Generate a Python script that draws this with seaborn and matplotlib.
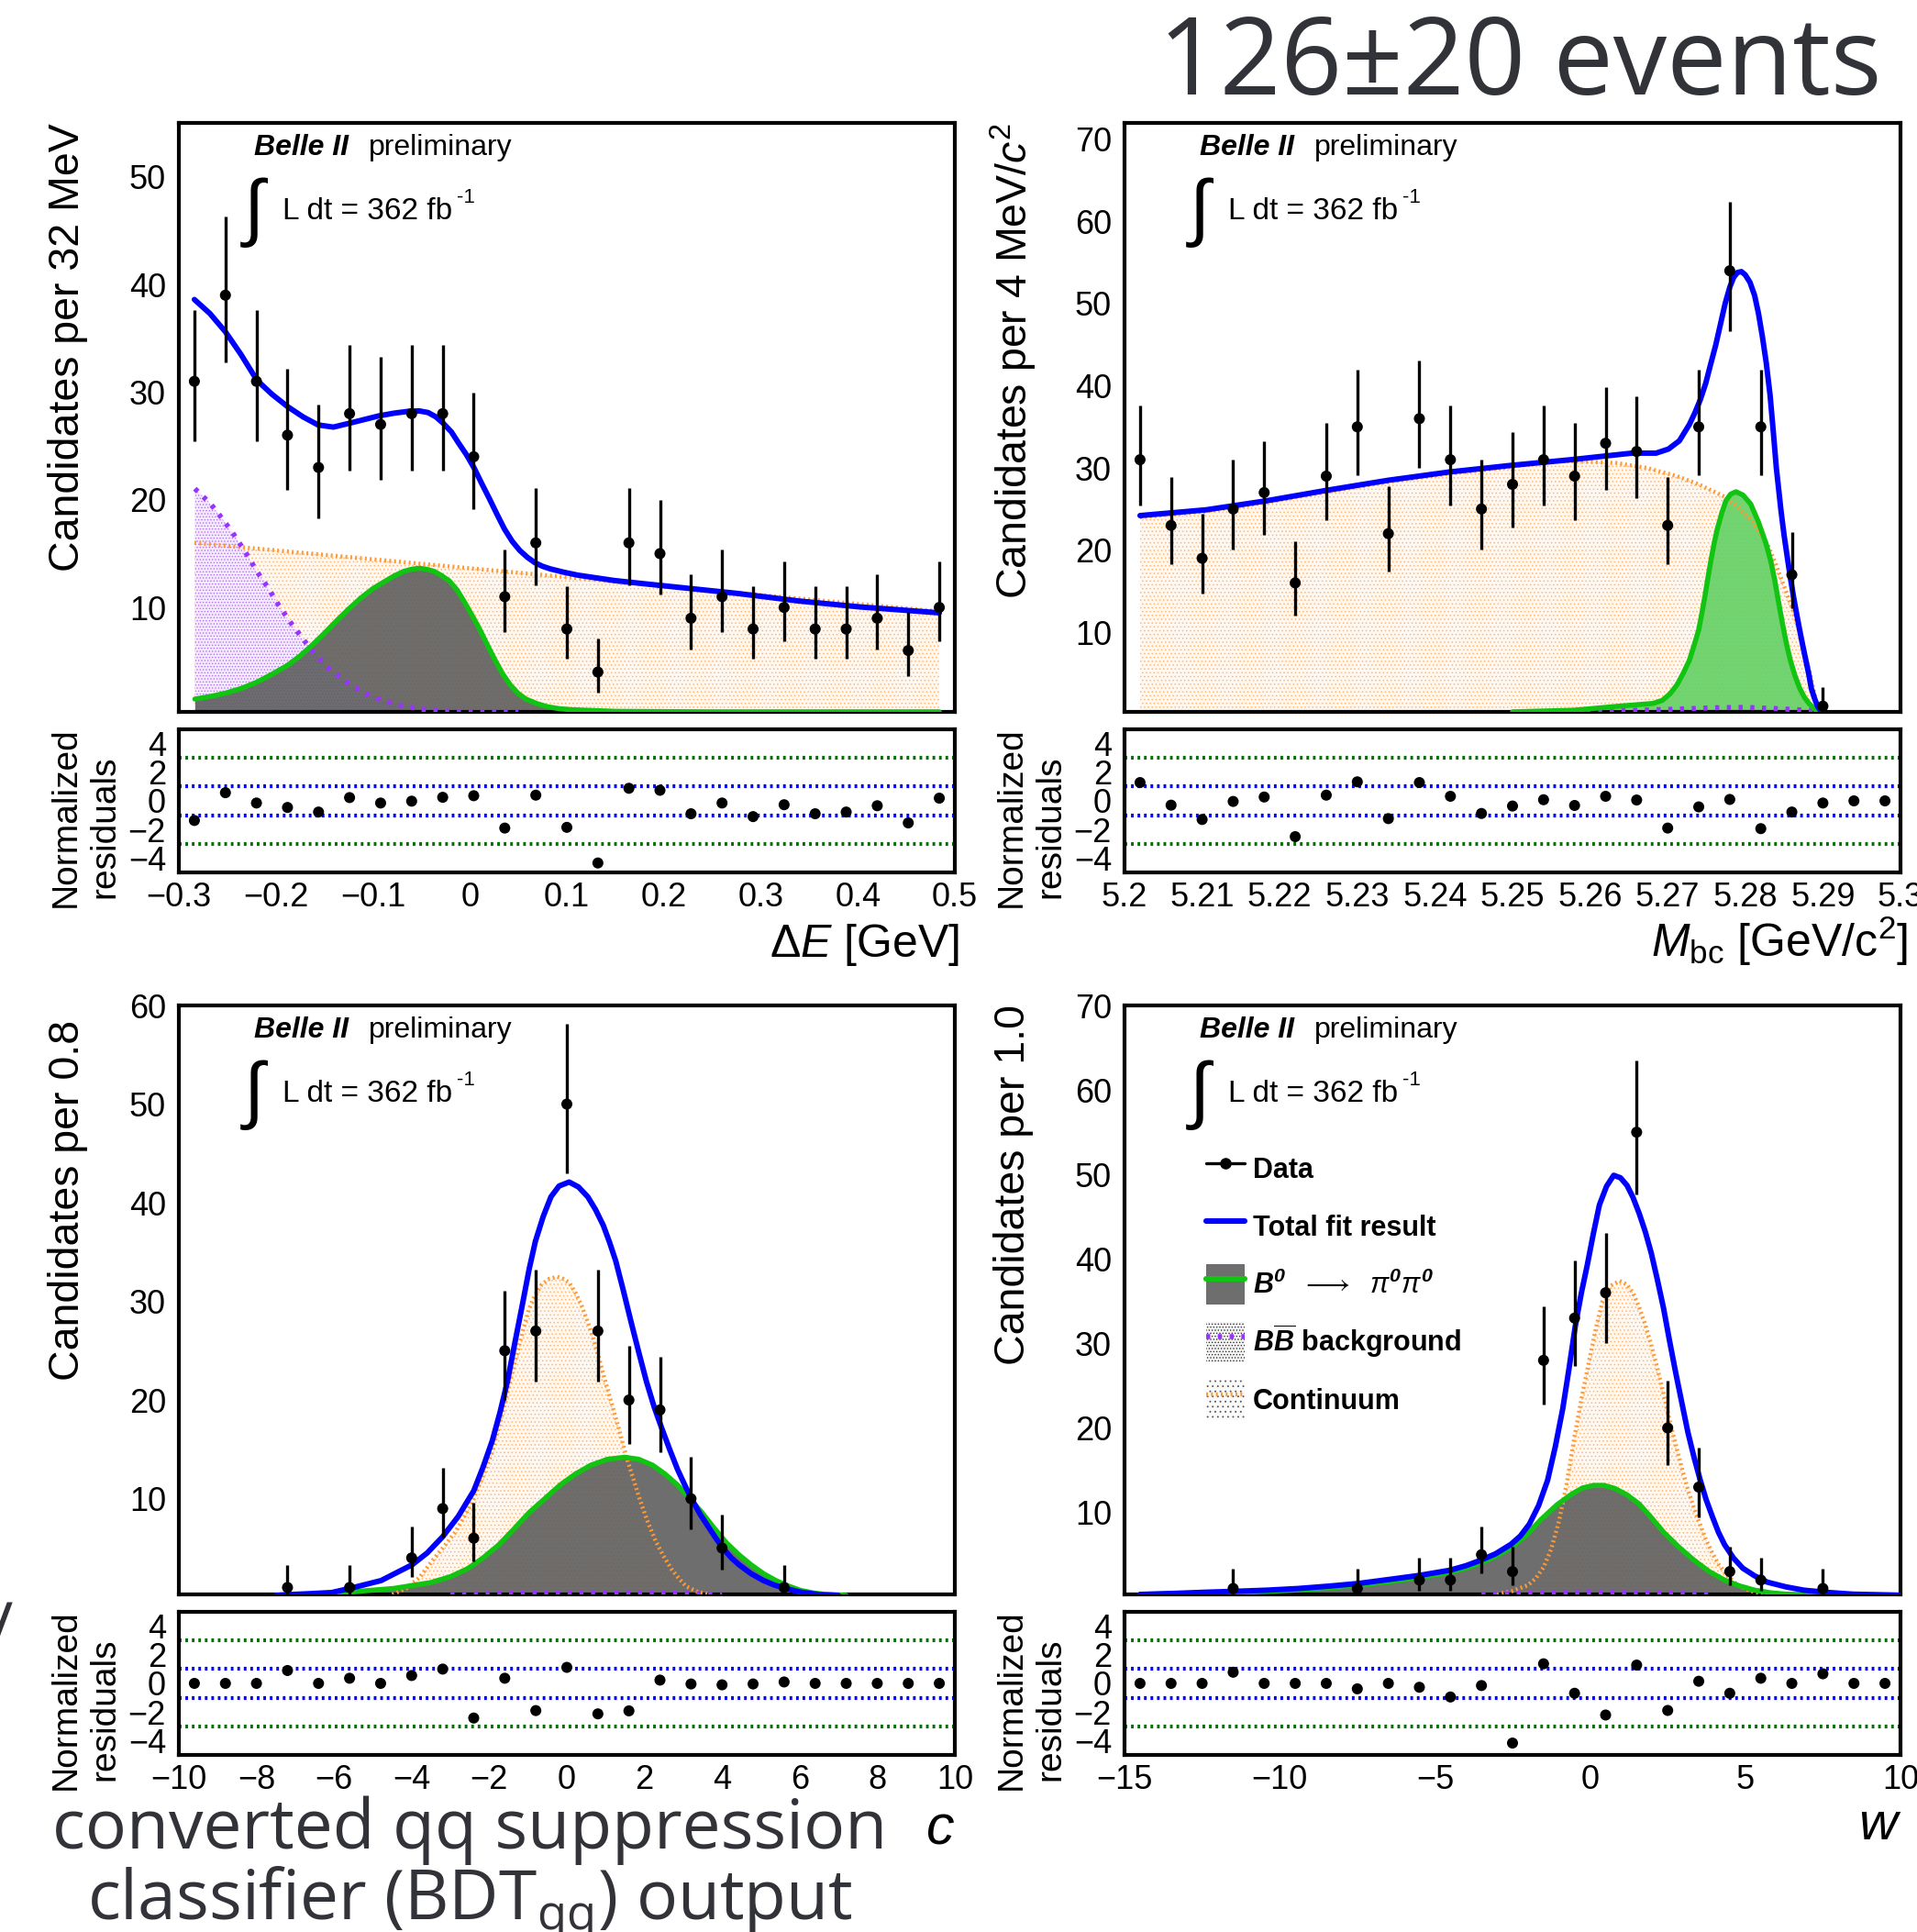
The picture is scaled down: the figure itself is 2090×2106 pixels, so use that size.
import numpy as np
import matplotlib
matplotlib.use("Agg")
import matplotlib.pyplot as plt
from matplotlib.ticker import MultipleLocator, FixedLocator, NullFormatter, FixedFormatter, NullLocator
from matplotlib.patches import Patch, Rectangle
from matplotlib.lines import Line2D
import seaborn as sns

# ---------------- Delta E projection ----------------
de_edges = np.linspace(-0.3, 0.5, 26)
de_counts = np.array([31, 39, 31, 26, 23, 28, 27, 28, 28, 24, 11, 16, 8, 4, 16, 15, 9, 11, 8, 10, 8, 8, 9, 6, 10])
de_pulls = [-1.37, 0.57, -0.15, -0.46, -0.78, 0.23, -0.15, -0.02, 0.25, 0.36, -1.9, 0.4, -1.85,
            -4.34, 0.88, 0.74, -0.9, -0.15, -1.1, -0.27, -0.9, -0.78, -0.34, -1.54, 0.19]
de_total_x = [-0.284, -0.268, -0.252, -0.236, -0.2195, -0.204, -0.188, -0.172, -0.1565, -0.1407,
              -0.125, -0.109, -0.0935, -0.0777, -0.0619, -0.052, -0.043, -0.035, -0.0273, -0.019,
              -0.0115, -0.0036, 0.0043, 0.012, 0.020, 0.028, 0.0357, 0.0436, 0.0515, 0.0594,
              0.0672, 0.075, 0.083, 0.097, 0.1113, 0.13, 0.149, 0.18, 0.212, 0.276, 0.339, 0.402, 0.484]
de_total_y = [38.6, 37.3, 35.6, 33.5, 31.1, 29.8, 28.66, 27.7, 26.95, 26.75, 27.09, 27.45, 27.8,
              28.05, 28.23, 28.25, 28.1, 27.7, 27.09, 26.3, 25.25, 24.2, 22.97, 21.55, 20.13,
              18.65, 17.28, 16.15, 15.29, 14.65, 14.15, 13.82, 13.58, 13.27, 13.0, 12.75, 12.5,
              12.2, 11.9, 11.3, 10.6, 10.05, 9.5]
de_cont_x = [-0.284, -0.1, 0.1, 0.3, 0.484]
de_cont_y = [16.0, 14.47, 12.81, 11.15, 9.63]
de_bb_x = [-0.2835, -0.2674, -0.2542, -0.2422, -0.2305, -0.2195, -0.2078, -0.1968, -0.1848, -0.1722,
           -0.1596, -0.1439, -0.1266, -0.1092, -0.0903, -0.0699, -0.0494, -0.0273, 0.0, 0.05]
de_bb_y = [21.03, 19.64, 18.13, 16.63, 15.0, 13.35, 11.79, 10.17, 8.6, 7.1, 5.62, 4.2, 3.06, 2.06,
           1.36, 0.85, 0.55, 0.36, 0.3, 0.25]
de_sig_x = [-0.2835, -0.267, -0.251, -0.235, -0.2195, -0.204, -0.188, -0.175, -0.1628, -0.150,
            -0.1375, -0.125, -0.1124, -0.100, -0.0871, -0.0776, -0.0682, -0.060, -0.0525, -0.0446,
            -0.0367, -0.029, -0.021, -0.013, -0.0052, 0.0027, 0.0105, 0.0184, 0.0263, 0.034,
            0.042, 0.050, 0.0578, 0.0688, 0.0799, 0.092, 0.105, 0.15, 0.25, 0.484]
de_sig_y = [1.49, 1.74, 2.06, 2.5, 3.06, 3.8, 4.62, 5.5, 6.48, 7.6, 8.75, 9.85, 10.88, 11.75,
            12.45, 12.95, 13.35, 13.55, 13.64, 13.55, 13.35, 12.95, 12.45, 11.6, 10.45, 9.2,
            7.9, 6.45, 5.05, 3.8, 2.77, 2.0, 1.49, 1.08, 0.78, 0.6, 0.5, 0.35, 0.3, 0.3]
de_xticks = [-0.3, -0.2, -0.1, 0.0, 0.1, 0.2, 0.3, 0.4, 0.5]
de_xticklabels = ['\u22120.3', '\u22120.2', '\u22120.1', '0', '0.1', '0.2', '0.3', '0.4', '0.5']

# ---------------- Mbc projection ----------------
mbc_edges = np.linspace(5.2, 5.3, 26)
mbc_counts = np.array([31, 23, 19, 25, 27, 16, 29, 35, 22, 36, 31, 25, 28, 31, 29, 33, 32, 23, 35, 54, 35, 17, 1, 0, 0])
mbc_pulls = [1.28, -0.3, -1.3, -0.04, 0.27, -2.5, 0.4, 1.33, -1.24, 1.28, 0.32, -0.88, -0.36, 0.08,
             -0.32, 0.32, 0.06, -1.9, -0.42, 0.1, -1.94, -0.78, -0.15, 0.0, 0.0]
mbc_total_x = [5.2020, 5.2105, 5.2183, 5.2262, 5.2340, 5.2418, 5.2497, 5.2575, 5.2654, 5.2685,
               5.2701, 5.2715, 5.2728, 5.2735, 5.2742, 5.2749, 5.2755, 5.2762, 5.2768, 5.2774,
               5.2780, 5.2785, 5.2790, 5.2795, 5.2800, 5.2806, 5.2812, 5.2817, 5.2822, 5.2827,
               5.2832, 5.2836, 5.2840, 5.2846, 5.2850, 5.2854, 5.2858, 5.2862, 5.2866, 5.2870,
               5.2874, 5.2878, 5.2882, 5.2885, 5.2889, 5.2893, 5.2898]
mbc_total_y = [24.2, 24.9, 26.0, 27.3, 28.5, 29.5, 30.3, 31.0, 31.8, 31.8, 32.3, 33.3, 35.3, 36.7,
               38.3, 40.3, 42.5, 45.0, 47.5, 50.0, 52.0, 53.2, 53.8, 53.9, 53.5, 52.6, 51.0, 48.8,
               46.0, 42.8, 38.8, 34.5, 30.0, 24.8, 21.8, 19.2, 16.7, 14.4, 12.3, 10.3, 8.4, 6.6,
               4.8, 3.2, 2.0, 1.0, 0.3]
mbc_cont_x = [5.2020, 5.2105, 5.2183, 5.2262, 5.2340, 5.2418, 5.2497, 5.2556, 5.2634, 5.2673,
              5.2712, 5.2740, 5.2771, 5.2790, 5.2807, 5.2820, 5.2830, 5.2838, 5.2846, 5.2854,
              5.2862, 5.2868, 5.2873, 5.2878, 5.2883, 5.2887, 5.2891, 5.2895]
mbc_cont_y = [24.0, 24.7, 25.8, 27.1, 28.3, 29.3, 30.1, 30.9, 30.6, 30.0, 29.0, 28.0, 26.6, 25.3,
              23.7, 22.0, 20.4, 18.6, 16.6, 14.6, 12.5, 10.6, 8.8, 7.0, 5.1, 3.4, 1.7, 0.5]
mbc_bb_x = [5.258, 5.264, 5.270, 5.276, 5.280, 5.284, 5.288, 5.2905]
mbc_bb_y = [0.3, 0.45, 0.6, 0.8, 0.85, 0.7, 0.5, 0.3]
mbc_sig_x = [5.2500, 5.2579, 5.2634, 5.2681, 5.2693, 5.2703, 5.2712, 5.2720, 5.2728, 5.2734,
             5.2740, 5.2744, 5.2748, 5.2752, 5.2756, 5.2760, 5.2764, 5.2770, 5.2775, 5.2781,
             5.2788, 5.2797, 5.2807, 5.2817, 5.2827, 5.2833, 5.2838, 5.2843, 5.2848, 5.2853,
             5.2858, 5.2864, 5.2870, 5.2876, 5.2882, 5.2891, 5.2895]
mbc_sig_y = [0.3, 0.5, 0.97, 1.33, 1.7, 2.5, 3.6, 5.0, 6.6, 8.4, 10.3, 12.3, 14.4, 16.7, 18.9,
             20.9, 22.6, 24.6, 26.0, 26.8, 27.1, 26.7, 25.6, 23.4, 20.7, 18.6, 16.3, 13.6, 11.0,
             8.6, 6.6, 4.7, 3.2, 2.1, 1.33, 0.5, 0.3]
mbc_xticks = [5.2, 5.21, 5.22, 5.23, 5.24, 5.25, 5.26, 5.27, 5.28, 5.29, 5.3]
mbc_xticklabels = ['5.2', '5.21', '5.22', '5.23', '5.24', '5.25', '5.26', '5.27', '5.28', '5.29', '5.3']

# ---------------- converted BDT output c ----------------
c_edges = np.linspace(-10, 10, 26)
c_counts = np.array([0, 0, 0, 1, 0, 1, 0, 4, 9, 6, 25, 27, 50, 27, 20, 19, 10, 5, 0, 1, 0, 0, 0, 0, 0])
c_pulls = [0.0, 0.0, 0.0, 0.9, 0.0, 0.36, 0.0, 0.55, 1.0, -2.42, 0.36, -1.9, 1.12, -2.13, -1.92,
           0.23, -0.04, -0.1, -0.04, 0.1, 0.0, 0.0, 0.0, 0.0, 0.0]
c_total_x = [-7.5, -7.17, -6.6, -6.06, -5.6, -4.79, -3.99, -3.6, -3.2, -2.8, -2.4, -2.16, -1.92,
             -1.72, -1.53, -1.33, -1.13, -0.97, -0.81, -0.61, -0.41, -0.2, 0.06, 0.3, 0.54, 0.74,
             0.94, 1.1, 1.26, 1.45, 1.65, 1.85, 2.05, 2.25, 2.45, 2.65, 2.85, 3.05, 3.24, 3.44,
             3.64, 3.84, 4.04, 4.24, 4.44, 4.75, 5.07, 5.35, 5.64, 6.0, 6.5, 7.0]
c_total_y = [0.2, 0.28, 0.38, 0.49, 0.9, 1.7, 3.3, 4.5, 6.15, 8.2, 10.8, 13.2, 15.9, 18.8, 21.9,
             26.0, 30.0, 33.3, 36.1, 38.6, 40.6, 41.7, 42.1, 41.6, 40.6, 39.3, 37.7, 36.0, 34.1,
             31.2, 28.0, 24.9, 21.9, 19.3, 17.1, 15.0, 13.0, 11.3, 9.8, 8.4, 7.2, 6.0, 4.9, 4.0,
             3.3, 2.4, 1.7, 1.25, 0.9, 0.55, 0.28, 0.2]
c_cont_x = [-4.5, -4.15, -3.8, -3.51, -3.2, -2.88, -2.64, -2.4, -2.16, -1.92, -1.76, -1.6, -1.45,
            -1.29, -1.13, -0.97, -0.81, -0.65, -0.45, -0.25, -0.1, 0.06, 0.22, 0.38, 0.54, 0.7,
            0.86, 1.02, 1.18, 1.34, 1.45, 1.57, 1.73, 1.89, 2.09, 2.29, 2.49, 2.69, 2.89, 3.08,
            3.4, 3.7]
c_cont_y = [0.3, 0.89, 2.0, 3.5, 5.0, 6.6, 8.2, 10.0, 12.3, 14.8, 17.2, 19.6, 22.1, 24.6, 27.1,
            29.3, 30.7, 31.7, 32.3, 32.5, 32.3, 31.9, 30.9, 29.6, 27.9, 26.0, 23.8, 21.5, 19.3,
            17.1, 15.5, 13.8, 11.8, 9.8, 7.6, 5.7, 4.2, 2.9, 1.9, 1.1, 0.5, 0.3]
c_bb_x = [-3.0, -1.5, 0.0, 1.5, 3.0, 4.0]
c_bb_y = [0.3, 0.4, 0.5, 0.5, 0.4, 0.3]
c_sig_x = [-6.5, -5.74, -5.1, -4.47, -3.99, -3.51, -3.0, -2.56, -2.16, -1.76, -1.37, -0.97, -0.57,
           -0.17, 0.22, 0.62, 1.05, 1.49, 1.85, 2.21, 2.53, 2.85, 3.17, 3.48, 3.8, 4.12, 4.44,
           4.75, 5.07, 5.39, 5.71, 6.03, 6.35, 6.66, 7.2]
c_sig_y = [0.3, 0.49, 0.7, 0.9, 1.2, 1.5, 2.1, 2.9, 4.0, 5.3, 6.9, 8.6, 10.0, 11.4, 12.5, 13.4,
           14.0, 14.2, 14.0, 13.4, 12.5, 11.4, 10.0, 8.6, 7.0, 5.5, 4.3, 3.3, 2.4, 1.7, 1.15, 0.7,
           0.45, 0.3, 0.2]
c_xticks = [-10, -8, -6, -4, -2, 0, 2, 4, 6, 8, 10]
c_xticklabels = ['\u221210', '\u22128', '\u22126', '\u22124', '\u22122', '0', '2', '4', '6', '8', '10']

# ---------------- w projection ----------------
w_edges = np.linspace(-15, 10, 26)
w_counts = np.array([0, 0, 0, 1, 0, 0, 0, 1, 0, 2, 2, 5, 3, 28, 33, 36, 55, 20, 13, 3, 2, 0, 1, 0, 0])
w_pulls = [0.0, 0.0, 0.0, 0.78, 0.0, 0.0, 0.0, -0.38, 0.0, -0.27, -0.95, -0.15, -4.17, 1.37, -0.69,
           -2.21, 1.28, -1.89, 0.15, -0.69, 0.36, 0.0, 0.67, 0.0, 0.0]
w_total_x = [-14.5, -13.4, -12.38, -11.4, -10.42, -9.4, -8.45, -7.45, -6.48, -5.5, -4.52, -4.0,
             -3.53, -3.05, -2.55, -2.25, -1.96, -1.66, -1.37, -1.12, -0.88, -0.68, -0.48, -0.28,
             -0.09, 0.1, 0.3, 0.53, 0.76, 0.98, 1.19, 1.38, 1.58, 1.78, 1.97, 2.17, 2.37, 2.56,
             2.76, 2.96, 3.15, 3.35, 3.55, 3.74, 3.94, 4.13, 4.33, 4.62, 4.92, 5.3, 5.71, 6.3,
             6.89, 7.6, 8.46, 10.0]
w_total_y = [0.3, 0.42, 0.56, 0.67, 0.8, 1.0, 1.27, 1.6, 2.07, 2.55, 3.16, 3.7, 4.34, 5.1, 6.23,
             7.2, 8.6, 10.8, 13.8, 17.8, 22.3, 27.0, 32.0, 36.0, 39.3, 42.9, 46.4, 48.6, 49.9,
             49.6, 48.7, 47.3, 45.4, 43.2, 40.7, 37.5, 34.1, 30.3, 26.5, 22.9, 19.5, 16.5, 13.8,
             11.5, 9.5, 7.7, 6.2, 4.6, 3.4, 2.5, 1.75, 1.2, 0.8, 0.55, 0.33, 0.2]
w_cont_x = [-3.0, -2.5, -2.0, -1.75, -1.5, -1.25, -1.0, -0.75, -0.5, -0.25, 0.0, 0.2, 0.4, 0.65,
            0.95, 1.18, 1.38, 1.58, 1.78, 1.97, 2.17, 2.37, 2.56, 2.76, 2.96, 3.15, 3.35, 3.55,
            3.74, 3.94, 4.13, 4.42, 4.72, 5.0, 5.31, 5.8]
w_cont_y = [0.3, 0.7, 1.4, 2.2, 3.5, 5.7, 9.0, 13.5, 19.0, 24.0, 28.5, 32.0, 35.0, 36.8, 37.4,
            37.0, 36.0, 34.3, 32.2, 29.8, 27.0, 24.0, 20.9, 18.0, 15.2, 12.7, 10.5, 8.5, 6.7,
            5.2, 3.9, 2.5, 1.5, 0.95, 0.56, 0.3]
w_bb_x = [-3.5, -1.5, 0.0, 1.5, 3.0, 4.0]
w_bb_y = [0.3, 0.5, 0.6, 0.55, 0.4, 0.3]
w_sig_x = [-14.5, -13.4, -12.4, -11.4, -10.4, -9.4, -8.45, -7.45, -6.48, -5.5, -4.52, -4.0, -3.53,
           -3.05, -2.55, -2.06, -1.57, -1.07, -0.58, -0.24, 0.11, 0.45, 0.79, 1.18, 1.58, 1.97,
           2.37, 2.86, 3.35, 3.84, 4.33, 4.82, 5.31, 5.8, 6.3, 7.5]
w_sig_y = [0.3, 0.37, 0.45, 0.55, 0.65, 0.83, 1.05, 1.4, 1.8, 2.3, 2.9, 3.4, 4.0, 4.8, 5.8, 7.3,
           9.2, 10.9, 12.2, 12.9, 13.2, 13.2, 12.85, 12.1, 11.0, 9.4, 7.65, 5.9, 4.34, 3.0, 2.0,
           1.3, 0.8, 0.5, 0.33, 0.2]
w_xticks = [-15, -10, -5, 0, 5, 10]
w_xticklabels = ['\u221215', '\u221210', '\u22125', '0', '5', '10']

pull_ticks = [-4, -2, 0, 2, 4]
pull_ticklabels = ['\u22124', '\u22122', '0', '2', '4']

legend_labels = ['Data', 'Total fit result',
                 r'$\mathbfit{B}^{\mathbfit{0}}\ \ \longrightarrow\ \ \pi^{\mathbfit{0}}\pi^{\mathbfit{0}}$',
                 r'$\mathbfit{B}\overline{\mathbfit{B}}$ background', 'Continuum']

# ---------------- style ----------------
sns.set_theme(style="white")
plt.rcParams['font.family'] = ['Liberation Sans', 'DejaVu Sans']
plt.rcParams.update({
    'mathtext.fontset': 'custom',
    'mathtext.rm': 'Liberation Sans',
    'mathtext.it': 'Liberation Sans:italic',
    'mathtext.bf': 'Liberation Sans:bold',
    'axes.edgecolor': 'black', 'text.color': 'black', 'axes.labelcolor': 'black',
    'xtick.color': 'black', 'ytick.color': 'black',
    'hatch.linewidth': 0.6,
})
try:
    plt.rcParams['mathtext.bfit'] = 'Liberation Sans:bold:italic'
except KeyError:
    pass

BLUE = '#0000ff'
GREEN = '#12c412'
ORANGE = '#ff9933'
PURPLE = '#9933ff'
DKGREEN = '#0a6e0a'
SIG_GRAY = '#5e5e5e'
SIG_GREEN = '#63d163'
YMIN = 0.3
TICKSIZE = 26

W, H = 2090, 2106
fig = plt.figure(figsize=(W / 100, H / 100), dpi=100)


def fx(px):
    return px / W


def fy(py):
    return 1 - py / H


def poisson_interval(n):
    n = np.asarray(n, float)
    lo = n * (1 - 1 / (9 * n) - 1 / (3 * np.sqrt(n))) ** 3
    hi = (n + 1) * (1 - 1 / (9 * (n + 1)) + 1 / (3 * np.sqrt(n + 1))) ** 3
    return lo, hi


def draw_panel(left, top, edges, counts, pulls, total, cont, bb, sig, sig_fill,
               ymax, yticks, xticks, xticklabels, xminor, ylabel, ylabel_top):
    ax = fig.add_axes([fx(left), fy(top + 642), 846 / W, 642 / H])
    rax = fig.add_axes([fx(left), fy(top + 642 + 19 + 156), 846 / W, 156 / H])
    centers = 0.5 * (edges[:-1] + edges[1:])

    # component fills: dotted continuum, dotted BB, checkered signal
    ax.fill_between(cont[0], cont[1], 0, facecolor='#fff8f1', edgecolor='#ffb877',
                    hatch='....', lw=0, zorder=1)
    ax.fill_between(bb[0], bb[1], 0, facecolor='#f4e9fe', edgecolor='#b470ff',
                    hatch='.....', lw=0, zorder=1.5)
    ax.fill_between(sig[0], sig[1], 0, color=sig_fill, lw=0, alpha=0.9, zorder=2)

    sns.lineplot(x=cont[0], y=cont[1], ax=ax, color=ORANGE, linewidth=3.2,
                 linestyle=(0, (0.45, 0.75)), sort=False, estimator=None, legend=False, zorder=3)
    sns.lineplot(x=bb[0], y=bb[1], ax=ax, color=PURPLE, linewidth=4.0,
                 linestyle=(0, (0.8, 1.5)), sort=False, estimator=None, legend=False, zorder=3.2)
    sns.lineplot(x=sig[0], y=sig[1], ax=ax, color=GREEN, linewidth=4.0,
                 sort=False, estimator=None, legend=False, zorder=4)
    sns.lineplot(x=total[0], y=total[1], ax=ax, color=BLUE, linewidth=4.3,
                 sort=False, estimator=None, legend=False, zorder=5)

    mask = counts > 0
    n = counts[mask]
    xc = centers[mask]
    lo, hi = poisson_interval(n)
    ax.errorbar(xc, n, yerr=[n - lo, hi - n], fmt='none', ecolor='black',
                elinewidth=2.4, capsize=0, zorder=6)
    sns.scatterplot(x=xc, y=n, ax=ax, color='black', s=75, edgecolor='none',
                    legend=False, zorder=7)

    sns.scatterplot(x=centers, y=pulls, ax=rax, color='black', s=75, edgecolor='none',
                    legend=False, zorder=5)
    for lvl, col in [(1, BLUE), (-1, BLUE), (3, DKGREEN), (-3, DKGREEN)]:
        rax.axhline(lvl, color=col, lw=3.0, linestyle=(0, (0.7, 1.0)), zorder=2)

    xlim = (edges[0], edges[-1])
    for a in (ax, rax):
        a.set_xlim(*xlim)
        a.set_xlabel('')
        a.set_ylabel('')
        a.set_facecolor('white')
        a.grid(False)
        for sp in a.spines.values():
            sp.set_linewidth(3.0)
            sp.set_color('black')
            sp.set_visible(True)
        a.xaxis.set_major_locator(FixedLocator(xticks))
        a.xaxis.set_minor_locator(MultipleLocator(xminor))
        a.tick_params(axis='both', which='both', direction='in', top=False, right=False,
                      width=1.6, colors='black', labelsize=TICKSIZE)
        a.tick_params(axis='x', which='major', length=11, pad=7)
        a.tick_params(axis='x', which='minor', length=6)

    ax.set_ylim(YMIN, ymax)
    ax.xaxis.set_major_formatter(NullFormatter())
    ax.yaxis.set_major_locator(FixedLocator(yticks))
    ax.yaxis.set_major_formatter(FixedFormatter([str(v) for v in yticks]))
    ax.yaxis.set_minor_locator(MultipleLocator(2))
    ax.tick_params(axis='y', which='major', length=14, pad=10)
    ax.tick_params(axis='y', which='minor', length=7)

    rax.set_ylim(-5, 5)
    rax.yaxis.set_major_locator(FixedLocator(pull_ticks))
    rax.yaxis.set_major_formatter(FixedFormatter(pull_ticklabels))
    rax.yaxis.set_minor_locator(NullLocator())
    rax.tick_params(axis='y', which='major', length=11, pad=10)
    rax.xaxis.set_major_formatter(FixedFormatter(xticklabels))

    # experiment tag and luminosity
    ax.text(0.097, 0.946, 'Belle II', transform=ax.transAxes, fontsize=23,
            fontweight='bold', fontstyle='italic', va='baseline', ha='left')
    ax.text(0.2447, 0.946, 'preliminary', transform=ax.transAxes, fontsize=23,
            va='baseline', ha='left')
    ax.text(0.084, 0.848, '\u222b', transform=ax.transAxes, fontsize=58,
            va='center', ha='left')
    ax.text(0.1336, 0.8364, 'L dt = 362 fb', transform=ax.transAxes, fontsize=24,
            va='baseline', ha='left')
    ax.text(0.3585, 0.8900, '-1', transform=ax.transAxes, fontsize=16,
            va='top', ha='left')

    fig.text(fx(left - 121), fy(ylabel_top), ylabel, rotation=90, ha='center', va='top',
             fontsize=33.5)
    rmid = top + 642 + 19 + 78
    fig.text(fx(left - 123), fy(rmid + 18), 'Normalized', rotation=90, ha='center',
             va='center', fontsize=28)
    fig.text(fx(left - 81), fy(rmid + 28), 'residuals', rotation=90, ha='center',
             va='center', fontsize=28)
    return ax, rax


ax1, r1 = draw_panel(195, 134, de_edges, de_counts, de_pulls,
                     (de_total_x, de_total_y), (de_cont_x, de_cont_y), (de_bb_x, de_bb_y),
                     (de_sig_x, de_sig_y), SIG_GRAY, 55, [10, 20, 30, 40, 50],
                     de_xticks, de_xticklabels, 0.02, 'Candidates per 32 MeV', 134)
ax2, r2 = draw_panel(1226, 134, mbc_edges, mbc_counts, mbc_pulls,
                     (mbc_total_x, mbc_total_y), (mbc_cont_x, mbc_cont_y), (mbc_bb_x, mbc_bb_y),
                     (mbc_sig_x, mbc_sig_y), SIG_GREEN, 72, [10, 20, 30, 40, 50, 60, 70],
                     mbc_xticks, mbc_xticklabels, 0.002,
                     r'Candidates per 4 MeV/$\mathit{c}^{2}$', 134)
ax3, r3 = draw_panel(195, 1096, c_edges, c_counts, c_pulls,
                     (c_total_x, c_total_y), (c_cont_x, c_cont_y), (c_bb_x, c_bb_y),
                     (c_sig_x, c_sig_y), SIG_GRAY, 60, [10, 20, 30, 40, 50, 60],
                     c_xticks, c_xticklabels, 0.5, 'Candidates per 0.8', 1112)
ax4, r4 = draw_panel(1226, 1096, w_edges, w_counts, w_pulls,
                     (w_total_x, w_total_y), (w_cont_x, w_cont_y), (w_bb_x, w_bb_y),
                     (w_sig_x, w_sig_y), SIG_GRAY, 70, [10, 20, 30, 40, 50, 60, 70],
                     w_xticks, w_xticklabels, 1.0, 'Candidates per 1.0', 1095)

# axis titles under the residual panels
fig.text(fx(1046), fy(1043), r'$\Delta\mathit{E}$ [GeV]', ha='right', va='baseline', fontsize=36)
fig.text(fx(2080), fy(1043), r'$\mathit{M}_{\mathrm{bc}}$ [GeV/c$^{2}$]', ha='right',
         va='baseline', fontsize=36)
fig.text(fx(1041), fy(2010), r'$\mathit{c}$', ha='right', va='baseline', fontsize=44)
fig.text(fx(2073), fy(2005), r'$\mathit{w}$', ha='right', va='baseline', fontsize=42)

# legend
h_data = Line2D([], [], color='black', lw=2.4, marker='o', ms=8)
h_tot = Line2D([], [], color=BLUE, lw=4.4)
h_sig = (Patch(facecolor='#6e6e6e', edgecolor='none'), Line2D([], [], color=GREEN, lw=4.4))
h_bb = (Patch(facecolor='#f4f4f4', edgecolor='#333333', hatch='.....', lw=0),
        Line2D([], [], color=PURPLE, lw=4.0, linestyle=(0, (0.8, 1.5))))
h_cont = (Patch(facecolor='#fafafa', edgecolor='#555555', hatch='...', lw=0),
          Line2D([], [], color=ORANGE, lw=3.2, linestyle=(0, (0.45, 0.75))))
ax4.legend([h_data, h_tot, h_sig, h_bb, h_cont], legend_labels, loc='upper left',
           bbox_to_anchor=(0.105, 0.757), frameon=False,
           prop={'weight': 'bold', 'size': 22}, handlelength=1.37, handleheight=1.84,
           handletextpad=0.3, labelspacing=0.62, borderpad=0, borderaxespad=0)

# headline and caption overlay
TXT = '#323338'
fig.text(fx(1657), fy(103), '126\u00b120 events', ha='center', va='baseline', fontsize=84,
         family=['Open Sans', 'DejaVu Sans'], color=TXT)
fig.text(fx(512), fy(2015), 'converted qq suppression', ha='center', va='baseline',
         fontsize=54, family=['Open Sans', 'DejaVu Sans'], color=TXT)
fig.text(fx(512), fy(2093), r'classifier (BDT$_\mathregular{qq}$) output', ha='center',
         va='baseline', fontsize=54, family=['Open Sans', 'DejaVu Sans'], color=TXT)
fig.text(fx(-14), fy(1800), '/', ha='left', va='baseline', fontsize=54,
         family=['Open Sans', 'DejaVu Sans'], color=TXT)

fig.savefig('out.png', dpi=100, facecolor='white')
